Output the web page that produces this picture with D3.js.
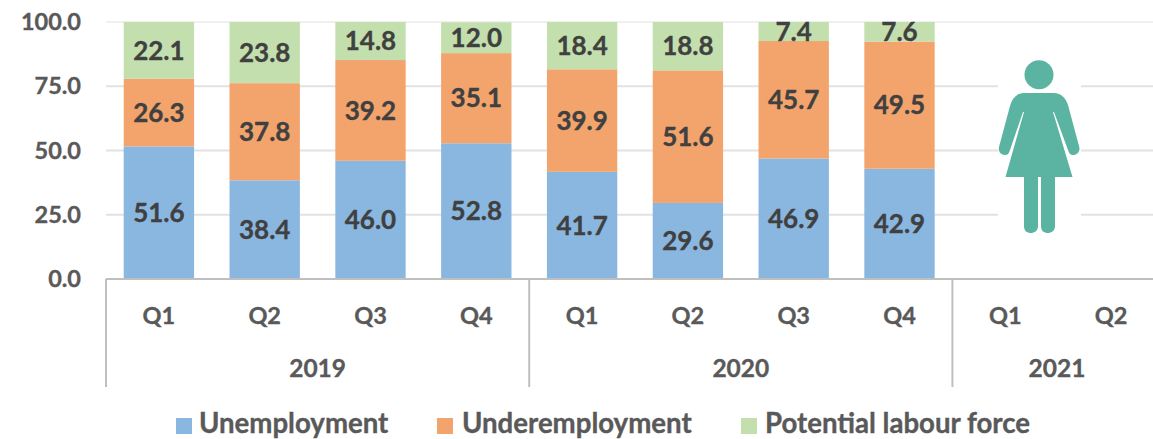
<!DOCTYPE html>
<html><head><meta charset="utf-8">
<script src="https://cdn.jsdelivr.net/npm/d3@7"></script>
<style>
html,body{margin:0;padding:0;background:#fff;overflow:hidden}
text{font-family:Lato,Carlito,"Open Sans",sans-serif;font-weight:700;stroke:currentColor;stroke-width:0.35px}
</style></head><body><div id="chart"></div>
<script>
const quarters=["Q1","Q2","Q3","Q4","Q1","Q2","Q3","Q4","Q1","Q2"];
const years=["2019","2020","2021"];
const yearSpans=[4,4,2];
const unemployment=[51.6,38.4,46.0,52.8,41.7,29.6,46.9,42.9];
const underemployment=[26.3,37.8,39.2,35.1,39.9,51.6,45.7,49.5];
const potential=[22.1,23.8,14.8,12.0,18.4,18.8,7.4,7.6];
const seriesNames=["Unemployment","Underemployment","Potential labour force"];
const seriesColors=["#8AB7E0","#F3A46C","#C3DFAE"];
const yTicks=[0,25,50,75,100];

const W=1153,H=439;
const svg=d3.select("#chart").append("svg").attr("width",W).attr("height",H).style("display","block");
const y=d3.scaleLinear().domain([0,100]).range([279,22]);
const x=d3.scaleBand().domain(d3.range(quarters.length)).range([106,1164]).paddingInner(0.335).paddingOuter(0.1675);
const cx=i=>x(i)+x.bandwidth()/2;
const ink="#595959",dark="#404040";

// gridlines
svg.append("g").selectAll("line").data(yTicks.filter(d=>d>0)).join("line")
 .attr("x1",106).attr("x2",W).attr("y1",d=>y(d)).attr("y2",d=>y(d))
 .attr("stroke",d=>d===100?"#F0F0F0":"#E2E2E2").attr("stroke-width",2);

// y axis labels
svg.append("g").selectAll("text").data(yTicks).join("text")
 .attr("x",81).attr("y",d=>y(d)+2).attr("text-anchor","end").attr("dominant-baseline","middle")
 .attr("font-size",23.5).attr("fill",ink).style("color",ink).text(d=>d.toFixed(1));

// stacked bars
const rows=unemployment.map((u,i)=>({i,u,e:underemployment[i],p:potential[i]}));
const stack=d3.stack().keys(["u","e","p"])(rows);
const g=svg.append("g");
stack.forEach((s,k)=>{
 g.selectAll(null).data(s).join("rect")
  .attr("x",d=>x(d.data.i)).attr("width",x.bandwidth())
  .attr("y",d=>y(Math.min(d[1],100))).attr("height",d=>y(d[0])-y(Math.min(d[1],100)))
  .attr("fill",seriesColors[k]);
});
// data labels
stack.forEach((s,k)=>{
 g.selectAll(null).data(s).join("text")
  .attr("x",d=>cx(d.data.i)).attr("y",d=>(y(d[0])+y(Math.min(d[1],100)))/2+2.5)
  .attr("text-anchor","middle").attr("dominant-baseline","middle")
  .attr("font-size",26).attr("fill",dark).style("color",dark).text(d=>(d[1]-d[0]).toFixed(1));
});

// x axis
const axis=svg.append("g");
axis.append("line").attr("x1",106).attr("x2",W).attr("y1",279).attr("y2",279).attr("stroke","#BFBFBF").attr("stroke-width",2);
let acc=0;
const step=x.step();
const x0=106;
const bounds=[0];
yearSpans.forEach(n=>{acc+=n;bounds.push(acc)});
axis.selectAll("line.sep").data(bounds.slice(0,3)).join("line").attr("class","sep")
 .attr("x1",d=>x0+d*step).attr("x2",d=>x0+d*step).attr("y1",279).attr("y2",387)
 .attr("stroke","#BFBFBF").attr("stroke-width",2);
axis.selectAll("text.q").data(quarters).join("text").attr("class","q")
 .attr("x",(d,i)=>cx(i)).attr("y",318).attr("text-anchor","middle").attr("dominant-baseline","middle")
 .attr("font-size",23.5).attr("fill",ink).style("color",ink).text(d=>d);
axis.selectAll("text.yr").data(years).join("text").attr("class","yr")
 .attr("x",(d,i)=>i<2?x0+(bounds[i]+bounds[i+1])/2*step:1057).attr("y",371).attr("text-anchor","middle").attr("dominant-baseline","middle")
 .attr("font-size",24.5).attr("fill",ink).style("color",ink).text(d=>d);

// woman icon on white plate
const icon=svg.append("g");
icon.append("rect").attr("x",998).attr("y",30).attr("width",83).attr("height",240).attr("fill","#fff");
icon.append("circle").attr("cx",1039).attr("cy",74.7).attr("r",14.5).attr("fill","#5BB4A1");
icon.append("path").attr("fill","#5BB4A1").attr("d",
 "M1024,93 L1054,93 C1061,93 1066,98 1068,105 L1079,146 C1081,152 1076,155 1073,155 C1070,155 1069,153 1068,150 L1054,112 L1053,112 L1072.5,177 L1055,177 L1055,226 C1055,231 1051,233 1048,233 C1044,233 1041,231 1041,226 L1041,177 L1038,177 L1038,226 C1038,231 1034,233 1031,233 C1027,233 1024,231 1024,226 L1024,177 L1005.5,177 L1024,112 L1023,112 L1010,150 C1009,153 1008,155 1005,155 C1001,155 998,152 999,147 L1010,106 C1012,98 1017,93 1024,93 Z");

// legend
const legendX=[176,437,741],textX=[199,462,765];
const leg=svg.append("g");
seriesNames.forEach((n,i)=>{
 leg.append("rect").attr("x",legendX[i]).attr("y",418).attr("width",16).attr("height",16).attr("fill",seriesColors[i]);
 leg.append("text").attr("x",textX[i]).attr("y",426).attr("dominant-baseline","middle").attr("font-size",27.6).attr("fill",ink).style("color",ink).text(n);
});
</script></body></html>
